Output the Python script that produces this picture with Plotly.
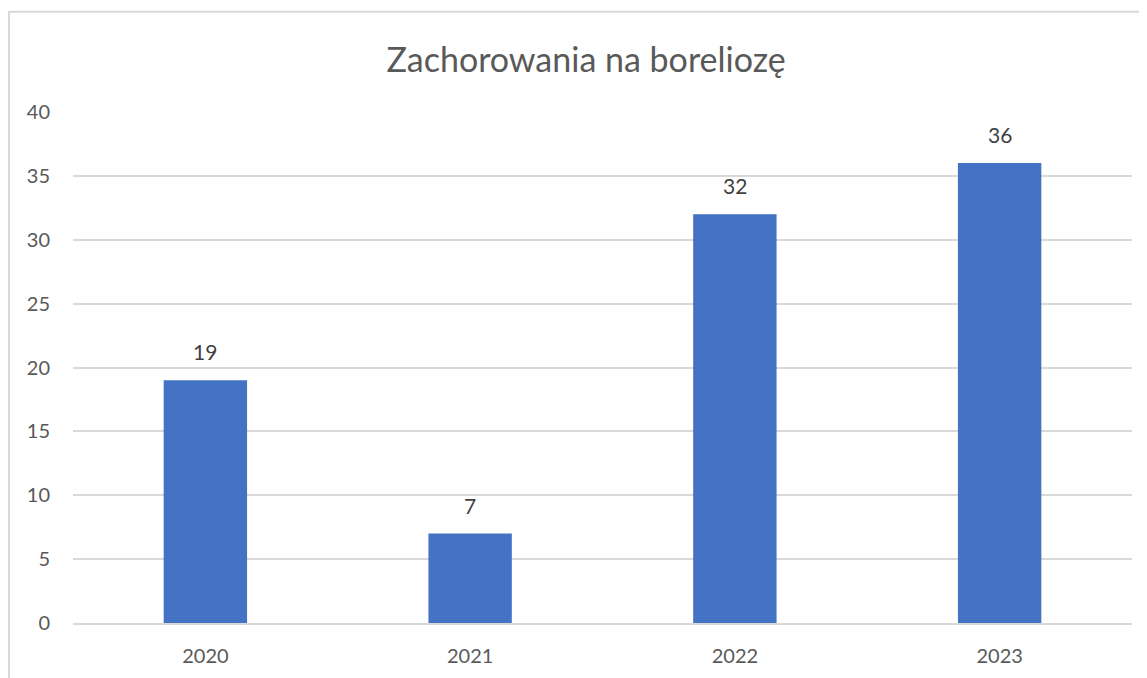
import plotly.graph_objects as go

years = ["2020", "2021", "2022", "2023"]
cases = [19, 7, 32, 36]
y_ticks = [0, 5, 10, 15, 20, 25, 30, 35, 40]

fig = go.Figure()

fig.add_trace(go.Bar(
    x=years,
    y=cases,
    marker_color="#4472C4",
    marker_line_width=0,
    width=0.315,
    hoverinfo="x+y",
))

# data labels sit a bit higher than plotly's "outside" text
# (category axis: annotations use the category index)
for i, v in enumerate(cases):
    fig.add_annotation(x=i, y=v, text=str(v), showarrow=False,
                       yanchor="bottom", yshift=14,
                       font=dict(size=21, color="#404040"))

# chart border (left + top only visible in the picture)
fig.add_shape(type="rect", xref="paper", yref="paper",
              x0=-0.0604, x1=1.05, y0=-0.2, y1=1.196,
              line=dict(color="#d9d9d9", width=2), layer="below")

fig.update_layout(
    width=1139,
    height=670,
    margin=dict(l=65, r=15, t=104, b=55),
    paper_bgcolor="white",
    plot_bgcolor="white",
    font=dict(family="Lato, Open Sans, sans-serif", color="#595959"),
    title=dict(text="Zachorowania na boreliozę", x=0.5075, xanchor="center",
               y=0.922, yanchor="middle",
               font=dict(size=34, color="#595959")),
    showlegend=False,
)

fig.update_yaxes(
    range=[0, 40],
    tickvals=y_ticks,
    showgrid=True,
    gridcolor="#d9d9d9",
    gridwidth=1.5,
    zeroline=False,
    showline=False,
    tickfont=dict(size=20, color="#595959"),
    ticklabelstandoff=22,
)

fig.update_xaxes(
    type="category",
    range=[-0.5, len(years) - 0.5],
    showline=True,
    linecolor="#d9d9d9",
    linewidth=1.5,
    tickfont=dict(size=20, color="#595959"),
    ticklabelstandoff=14,
)

fig.write_html("out.html")
